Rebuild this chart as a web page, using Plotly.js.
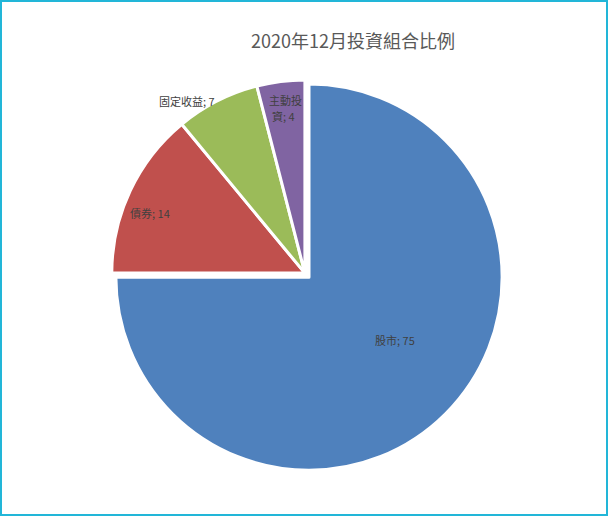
<!DOCTYPE html>
<html>
<head>
<meta charset="utf-8">
<script src="https://cdn.plot.ly/plotly-3.0.1.min.js"></script>
<style>
  html, body { margin: 0; padding: 0; background: #fff; }
  #chart { width: 608px; height: 516px; box-sizing: border-box; border: 2px solid #22b6d8; }
</style>
</head>
<body>
<div id="chart"></div>
<script>
const categories = ['股市', '債券', '固定收益', '主動投資'];
const values = [75, 14, 7, 4];
const colors = ['#4f81bd', '#c0504d', '#9bbb59', '#8064a2'];
const titleText = '2020年12月投資組合比例';

// label lines: each category's label may wrap into several lines (layout only)
const wrapAt = [0, 0, 0, 3];
// anchor positions in plot pixels (from top-left of plot area), one per line
const linePos = [
  [[393, 338]],
  [[148, 211]],
  [[185, 99]],
  [[283, 98], [281, 114]]
];

const W = 604, H = 512;
const annotations = [];
categories.forEach((c, i) => {
  const parts = wrapAt[i] ? [c.slice(0, wrapAt[i]), c.slice(wrapAt[i])] : [c];
  parts[parts.length - 1] += '; ' + values[i];
  parts.forEach((t, j) => {
    annotations.push({
      xref: 'paper', yref: 'paper',
      x: linePos[i][j][0] / W, y: 1 - linePos[i][j][1] / H,
      xanchor: 'center', yanchor: 'middle',
      text: t,
      showarrow: false,
      borderpad: 0, borderwidth: 0,
      font: {family: '"Noto Sans CJK TC", "Noto Sans", sans-serif', size: 11, color: '#404040'}
    });
  });
});

const data = [{
  type: 'pie',
  labels: categories,
  values: values,
  sort: false,
  direction: 'clockwise',
  rotation: 0,
  pull: [0.03, 0, 0, 0],
  marker: {colors: colors, line: {color: '#ffffff', width: 3}},
  textinfo: 'none',
  hoverinfo: 'label+value',
  showlegend: false,
  domain: {x: [0.172, 0.831], y: [0.082, 0.859]}
}];

const layout = {
  width: W, height: H,
  margin: {l: 0, r: 0, t: 0, b: 0},
  paper_bgcolor: '#ffffff',
  title: {
    text: titleText,
    x: 351 / W, xanchor: 'center',
    y: 1 - 40 / H, yanchor: 'middle',
    font: {family: '"Noto Sans CJK TC", "Noto Sans", sans-serif', size: 18, color: '#595959'}
  },
  annotations: annotations,
  showlegend: false
};

Plotly.newPlot('chart', data, layout, {displayModeBar: false, staticPlot: true});
</script>
</body>
</html>
